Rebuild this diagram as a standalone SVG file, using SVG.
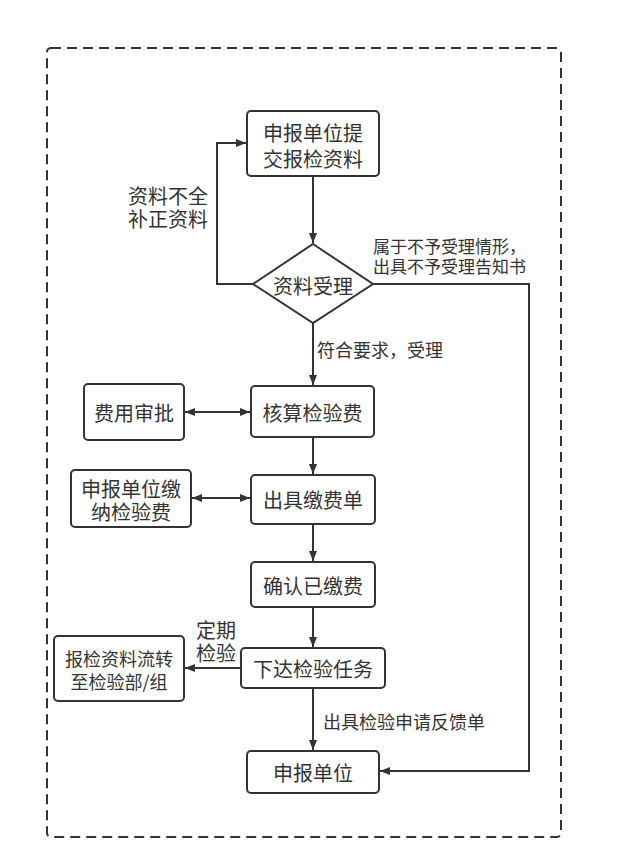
<svg xmlns="http://www.w3.org/2000/svg" width="623" height="854" viewBox="0 0 623 854">
<style>
.bx{fill:#fff;stroke:#333;stroke-width:2}
.ln{fill:none;stroke:#333;stroke-width:2}
text{font-family:"Noto Sans CJK SC","Liberation Sans",sans-serif;fill:#333;dominant-baseline:central}
.t{font-size:20px;text-anchor:middle}
.b{font-size:20px}
.l{font-size:18px}
.s{font-size:17px}
</style>
<defs>
<marker id="ar" viewBox="0 0 10 10" refX="10" refY="5" markerWidth="10" markerHeight="10" markerUnits="userSpaceOnUse" orient="auto-start-reverse">
<path d="M0,1 L10,5 L0,9 Z" fill="#333"/>
</marker>
</defs>
<rect x="47" y="48" width="514" height="789" rx="4" fill="none" stroke="#333" stroke-width="2" stroke-dasharray="10 6"/>
<g id="connectors">
<path class="ln" d="M313,176 V243" marker-end="url(#ar)"/>
<path class="ln" d="M253,284 H217 V143 H246" marker-end="url(#ar)"/>
<path class="ln" d="M373,284 H529 V771 H380" marker-end="url(#ar)"/>
<path class="ln" d="M313,323 V385" marker-end="url(#ar)"/>
<path class="ln" d="M185,412 H250" marker-start="url(#ar)" marker-end="url(#ar)"/>
<path class="ln" d="M313,437 V474" marker-end="url(#ar)"/>
<path class="ln" d="M192,498 H250" marker-start="url(#ar)" marker-end="url(#ar)"/>
<path class="ln" d="M313,524 V561" marker-end="url(#ar)"/>
<path class="ln" d="M313,607 V647" marker-end="url(#ar)"/>
<path class="ln" d="M241,668 H185" marker-end="url(#ar)"/>
<path class="ln" d="M313,688 V750" marker-end="url(#ar)"/>
<text class="b"><tspan x="128" y="195">资料不全</tspan><tspan x="128" y="218">补正资料</tspan></text>
<text class="s"><tspan x="373" y="245">属于不予受理情形，</tspan><tspan x="373" y="265">出具不予受理告知书</tspan></text>
<text class="l" x="317" y="349">符合要求，受理</text>
<text class="b"><tspan x="196" y="629">定期</tspan><tspan x="196" y="652">检验</tspan></text>
<text class="l" x="323" y="721">出具检验申请反馈单</text>
</g>
<g id="n1"><rect class="bx" x="247" y="111" width="132" height="65" rx="4"/><text class="t"><tspan x="313" y="132">申报单位提</tspan><tspan x="313" y="158">交报检资料</tspan></text></g>
<g id="n2"><path class="bx" d="M313,244 L373,284 L313,323 L253,284 Z"/><text class="t" x="313" y="285">资料受理</text></g>
<g id="n3"><rect class="bx" x="251" y="386" width="123" height="51" rx="4"/><text class="t" x="312.5" y="412">核算检验费</text></g>
<g id="n4"><rect class="bx" x="84" y="384" width="100" height="56" rx="4"/><text class="t" x="134" y="412">费用审批</text></g>
<g id="n5"><rect class="bx" x="251" y="475" width="124" height="49" rx="4"/><text class="t" x="313" y="499">出具缴费单</text></g>
<g id="n6"><rect class="bx" x="71" y="470" width="120" height="57" rx="4"/><text class="t"><tspan x="131" y="488">申报单位缴</tspan><tspan x="131" y="511">纳检验费</tspan></text></g>
<g id="n7"><rect class="bx" x="251" y="562" width="124" height="45" rx="4"/><text class="t" x="313" y="585">确认已缴费</text></g>
<g id="n8"><rect class="bx" x="241" y="648" width="144" height="40" rx="4"/><text class="t" x="313" y="668">下达检验任务</text></g>
<g id="n9"><rect class="bx" x="54" y="636" width="130" height="65" rx="4"/><text class="t" style="font-size:18px"><tspan x="119" y="658">报检资料流转</tspan><tspan x="119" y="681">至检验部/组</tspan></text></g>
<g id="n10"><rect class="bx" x="247" y="751" width="132" height="42" rx="4"/><text class="t" x="313" y="772">申报单位</text></g>
</svg>
